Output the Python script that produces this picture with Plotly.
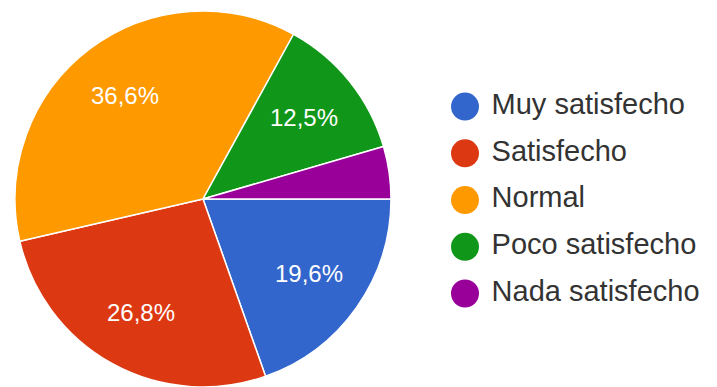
import math
import plotly.graph_objects as go

labels = ['Muy satisfecho', 'Satisfecho', 'Normal', 'Poco satisfecho', 'Nada satisfecho']
values = [19.6, 26.8, 36.6, 12.5, 4.5]
slice_text = ['19,6%', '26,8%', '36,6%', '12,5%', '']
colors = ['#3366cc', '#dc3912', '#ff9900', '#109618', '#990099']

W, H = 717, 387
FONT = 'Arial, Liberation Sans, sans-serif'
pie_x = [15 / W, 391 / W]
pie_y = [0, 1 - 11 / H]

fig = go.Figure()
fig.add_trace(go.Pie(
    labels=labels, values=values,
    textinfo='none',
    marker=dict(colors=colors, line=dict(color='white', width=1.5)),
    sort=False, direction='clockwise', rotation=90,
    domain=dict(x=pie_x, y=pie_y),
    showlegend=False, hoverinfo='label+percent',
))

# percentage labels, google-style: on the slice bisector at ~0.69 of the radius
total = sum(values)
cum = 0
for v, t in zip(values, slice_text):
    mid = -(cum + v / 2) / total * 2 * math.pi  # starts at 3 o'clock, clockwise
    cum += v
    if not t:
        continue
    fig.add_annotation(
        x=0.69 * math.cos(mid), y=0.69 * math.sin(mid), xref='x2', yref='y2',
        text=t, showarrow=False, xanchor='center', yanchor='middle',
        font=dict(family=FONT, size=24, color='white'),
    )

# legend drawn as a column of big round markers (plotly caps legend symbols at 16px)
idx = list(range(len(labels)))
fig.add_trace(go.Scatter(
    x=[0] * len(labels), y=idx, mode='markers+text',
    text=['\u00a0' + l for l in labels], textposition='middle right',
    textfont=dict(family=FONT, size=29, color='#333333'),
    marker=dict(color=colors, size=28, symbol='circle'),
    cliponaxis=False, showlegend=False, hoverinfo='skip',
))

fig.update_layout(
    width=W, height=H,
    margin=dict(l=0, r=0, t=0, b=0),
    paper_bgcolor='white', plot_bgcolor='rgba(0,0,0,0)',
    xaxis=dict(visible=False, domain=[465 / W, 1], range=[0, 1], fixedrange=True),
    yaxis=dict(visible=False, range=[6.0, -2.28], fixedrange=True),
    xaxis2=dict(visible=False, domain=pie_x, range=[-1, 1], fixedrange=True),
    yaxis2=dict(visible=False, domain=pie_y, range=[-1, 1], fixedrange=True, anchor='x2'),
    showlegend=False,
)

fig.write_html("out.html", config={'displayModeBar': False},
               post_script="document.body.style.margin='0';")
